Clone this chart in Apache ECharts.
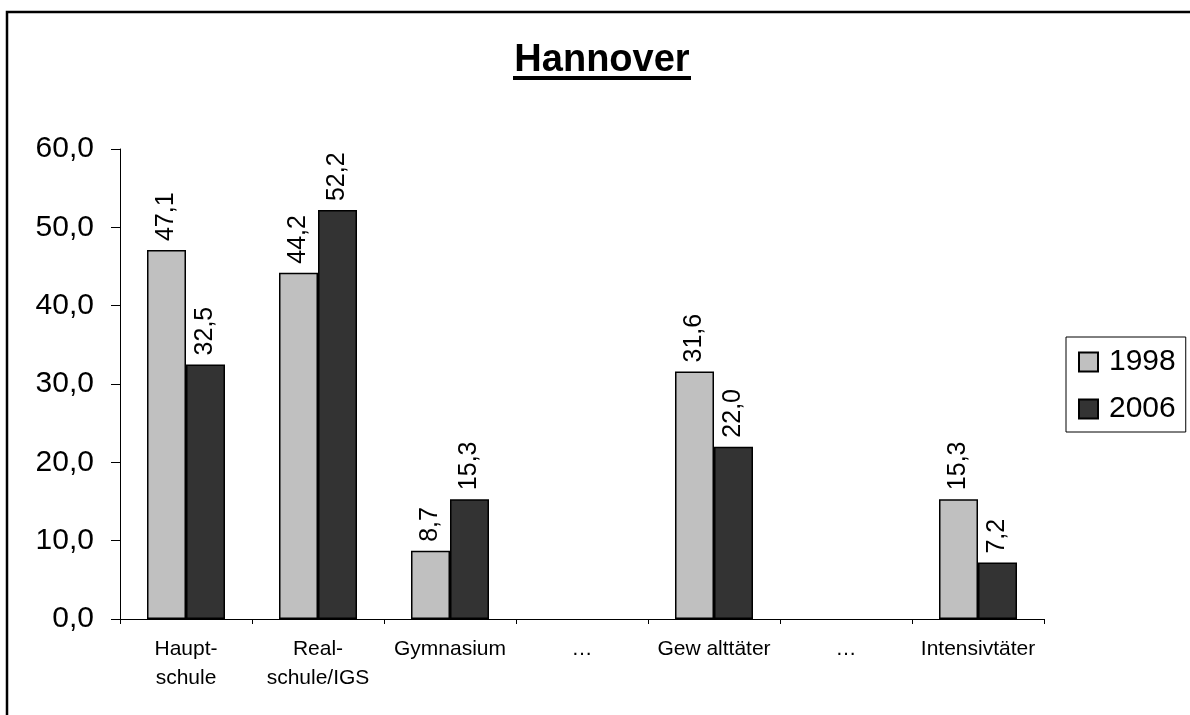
<!DOCTYPE html>
<html>
<head>
<meta charset="utf-8">
<script src="https://cdn.jsdelivr.net/npm/echarts@6/dist/echarts.min.js"></script>
<style>
  html, body { margin: 0; padding: 0; background: #fff; }
  #chart { width: 1190px; height: 715px; }
</style>
</head>
<body>
<div id="chart"></div>
<script>
let categories = ['Haupt-\nschule', 'Real-\nschule/IGS', 'Gymnasium', '…', 'Gew alttäter', '…', 'Intensivtäter']
let data1998 = [47.1, 44.2, 8.7, null, 31.6, null, 15.3]
let data2006 = [32.5, 52.2, 15.3, null, 22.0, null, 7.2]
let yTicks = [0, 10, 20, 30, 40, 50, 60]

let font = 'Liberation Sans, Arial, sans-serif'
let fmt = function (v) { return v.toFixed(1).replace('.', ',') }

let barLabel = {
  show: true,
  position: 'top',
  rotate: 90,
  align: 'left',
  verticalAlign: 'middle',
  distance: 9,
  fontFamily: font,
  fontSize: 25,
  color: '#000',
  formatter: function (p) { return fmt(p.value) }
}

let myChart = echarts.init(document.getElementById('chart'))
myChart.setOption({
  animation: false,
  backgroundColor: '#fff',
  graphic: [
    {
      type: 'rect',
      shape: { x: 7, y: 12, width: 1250, height: 760 },
      style: { fill: 'none', stroke: '#000', lineWidth: 2.5 },
      silent: true
    },
    {
      type: 'text',
      x: 602,
      y: 42,
      style: {
        text: 'Hannover',
        fontFamily: font,
        fontWeight: 'bold',
        fontSize: 38,
        fill: '#000',
        textAlign: 'center'
      }
    },
    {
      type: 'rect',
      shape: { x: 513, y: 76, width: 178, height: 4 },
      style: { fill: '#000' }
    }
  ],
  grid: {
    left: 120,
    top: 149,
    width: 924,
    height: 470
  },
  legend: {
    orient: 'vertical',
    left: 1066,
    top: 337,
    padding: [10, 10, 8, 12],
    itemGap: 17,
    itemWidth: 19,
    itemHeight: 19,
    icon: 'rect',
    borderColor: '#000',
    borderWidth: 1,
    textStyle: {
      fontFamily: font,
      fontSize: 30,
      color: '#000',
      padding: [0, 0, 0, 6]
    },
    data: ['1998', '2006']
  },
  xAxis: {
    type: 'category',
    data: categories,
    axisLine: { lineStyle: { color: '#000', width: 1 } },
    axisTick: { show: true, length: 5, lineStyle: { color: '#000' } },
    axisLabel: {
      fontFamily: font,
      fontSize: 21,
      lineHeight: 29,
      color: '#000',
      margin: 16,
      interval: 0
    }
  },
  yAxis: {
    type: 'value',
    min: yTicks[0],
    max: yTicks[yTicks.length - 1],
    interval: 10,
    splitLine: { show: false },
    axisLine: { show: true, lineStyle: { color: '#000', width: 1 } },
    axisTick: { show: true, length: 9, lineStyle: { color: '#000' } },
    axisLabel: {
      fontFamily: font,
      fontSize: 30,
      color: '#000',
      margin: 26,
      formatter: function (v) { return fmt(v) }
    }
  },
  series: [
    {
      name: '1998',
      type: 'bar',
      barWidth: 39,
      barGap: '0%',
      itemStyle: { color: '#c0c0c0', borderColor: '#000', borderWidth: 1.5 },
      label: barLabel,
      data: data1998
    },
    {
      name: '2006',
      type: 'bar',
      barWidth: 39,
      barGap: '0%',
      itemStyle: { color: '#333333', borderColor: '#000', borderWidth: 1.5 },
      label: barLabel,
      data: data2006
    }
  ]
})
</script>
</body>
</html>
